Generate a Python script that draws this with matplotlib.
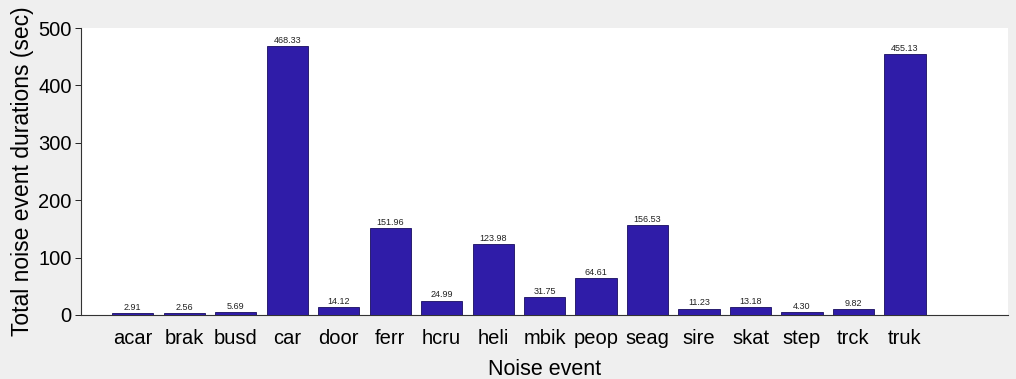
import matplotlib
matplotlib.use("Agg")
import matplotlib.pyplot as plt
import numpy as np

# ── Data ──────────────────────────────────────────────────────────────────
events = ["acar", "brak", "busd", "car", "door", "ferr", "hcru", "heli",
          "mbik", "peop", "seag", "sire", "skat", "step", "trck", "truk"]
durations = [2.91, 2.56, 5.69, 468.33, 14.12, 151.96, 24.99, 123.98,
             31.75, 64.61, 156.53, 11.23, 13.18, 4.30, 9.82, 455.13]

BAR_CLR = "#2f1ca8"
BG = "#efefef"

plt.rcParams["font.family"] = ["Liberation Sans", "DejaVu Sans"]

fig = plt.figure(figsize=(10.16, 3.79), dpi=100, facecolor=BG)
ax = fig.add_axes([0.080, 0.169, 0.912, 0.757])
ax.set_facecolor("white")

x = np.arange(1, len(events) + 1)
bars = ax.bar(x, durations, width=0.8, color=BAR_CLR,
              edgecolor="#180d60", linewidth=0.6, zorder=3)

for xi, v in zip(x, durations):
    ax.text(xi, v + 2, f"{v:.2f}", ha="center", va="bottom",
            fontsize=6.5, color="#222222", zorder=4)

ax.set_xlim(0, 18)
ax.set_ylim(0, 500)
ax.set_xticks(x)
ax.set_xticklabels(events, fontsize=14.5)
ax.set_yticks([0, 100, 200, 300, 400, 500])
ax.tick_params(axis="y", labelsize=14.5, length=4, width=0.6, pad=3)
ax.tick_params(axis="x", length=0, pad=10)
ax.set_xlabel("Noise event", fontsize=15.5, labelpad=8)
ax.set_ylabel("Total noise event durations (sec)", fontsize=16.5, labelpad=3)

for side in ["top", "right"]:
    ax.spines[side].set_visible(False)
ax.spines["left"].set_color("#333333")
ax.spines["bottom"].set_color("#333333")

plt.savefig("out.png", dpi=100, facecolor=fig.get_facecolor())
